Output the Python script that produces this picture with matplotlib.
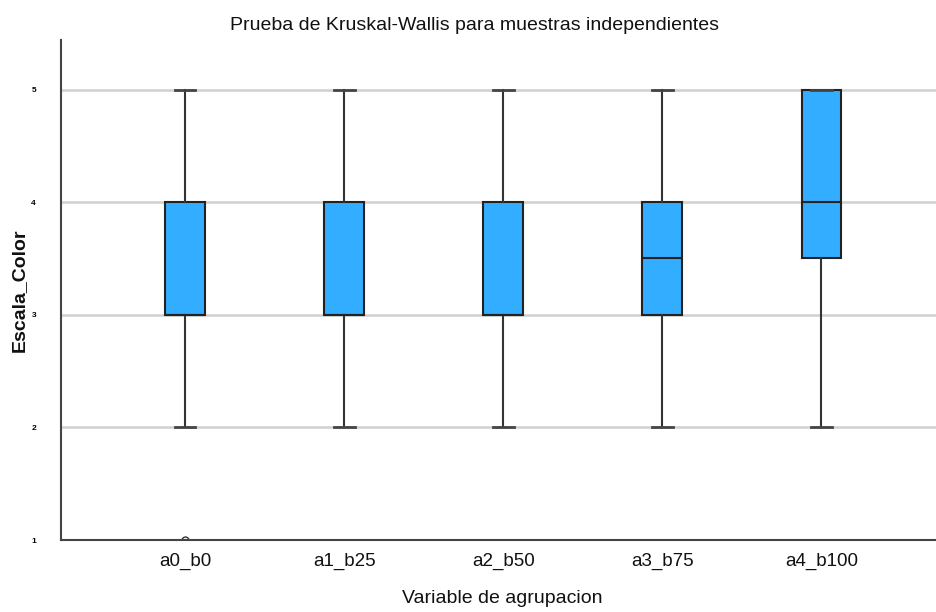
import matplotlib
matplotlib.use("Agg")
import matplotlib.pyplot as plt

categories = ["a0_b0", "a1_b25", "a2_b50", "a3_b75", "a4_b100"]
whislo = [2, 2, 2, 2, 2]
q1 = [3, 3, 3, 3, 3.5]
med = [3, 3, 3, 3.5, 4]
q3 = [4, 4, 4, 4, 5]
whishi = [5, 5, 5, 5, 5]
outliers = [[1], [], [], [], []]
yticks = [1, 2, 3, 4, 5]

plt.rcParams['font.family'] = ['Liberation Sans', 'DejaVu Sans']

fig = plt.figure(figsize=(9.36, 6.12), dpi=100)
ax = fig.add_axes([0.0652, 0.1176, 0.9348, 0.817])

stats = []
for i, c in enumerate(categories):
    stats.append(dict(label=c, whislo=whislo[i], q1=q1[i], med=med[i], q3=q3[i],
                      whishi=whishi[i], fliers=outliers[i]))

ax.bxp(stats, positions=range(len(categories)), widths=0.25, patch_artist=True,
       showfliers=True,
       boxprops=dict(facecolor='#33adff', edgecolor='#222222', linewidth=1.5),
       medianprops=dict(color='#222222', linewidth=1.5),
       whiskerprops=dict(color='#333333', linewidth=1.5),
       capprops=dict(color='#444444', linewidth=2),
       capwidths=0.13,
       flierprops=dict(marker='o', markerfacecolor='none', markeredgecolor='#333333',
                       markersize=5))

ax.set_xlim(-0.78, 4.72)
ax.set_ylim(1, 5.44)
ax.set_yticks(yticks)
ax.set_yticklabels([str(t) for t in yticks], fontsize=6, fontweight='bold')
ax.yaxis.grid(True, color='#d0d0d0', linewidth=1.8)
ax.set_axisbelow(True)
ax.tick_params(axis='both', length=0)
ax.tick_params(axis='y', pad=18)
ax.tick_params(axis='x', labelsize=13.5, pad=9, labelcolor='#111111')
for s in ['top', 'right']:
    ax.spines[s].set_visible(False)
for s in ['left', 'bottom']:
    ax.spines[s].set_color('#444444')
    ax.spines[s].set_linewidth(1.5)

fig.text(0.507, 0.959, "Prueba de Kruskal-Wallis para muestras independientes",
         fontsize=14, ha='center', va='center', color='#111111')
ax.set_xlabel("Variable de agrupacion", fontsize=14, color='#111111')
ax.xaxis.set_label_coords(0.504, -0.116)
ax.xaxis.label.set_va('center')
ax.set_ylabel("Escala_Color", fontsize=14, fontweight='bold', color='#111111')
ax.yaxis.set_label_coords(-0.048, 0.5)
ax.yaxis.label.set_va('center')

fig.savefig("out.png", dpi=100)
